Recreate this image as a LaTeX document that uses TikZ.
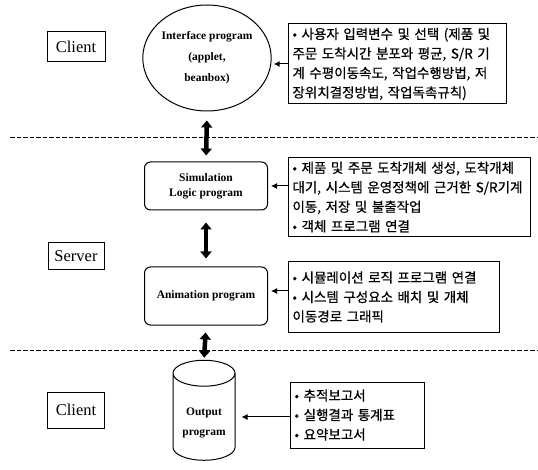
\documentclass[tikz,border=0pt]{standalone}
\usepackage{fontspec}
\setmainfont{Liberation Serif}
\newfontfamily\krfont[FakeBold=0.6]{Noto Sans CJK KR}
\usetikzlibrary{shapes.geometric,arrows.meta,positioning}

\begin{document}
\begin{tikzpicture}[x=1pt,y=-1pt,
  tier/.style={rectangle,draw,line width=1pt,font=\fontsize{16.5}{18}\selectfont,inner sep=0pt},
  prog/.style={draw,line width=1pt,font=\bfseries\fontsize{11.5}{15}\selectfont,align=center,inner sep=0pt},
  note/.style={rectangle,draw,line width=1pt,font=\krfont\fontsize{13.5}{19.5}\selectfont,align=left,anchor=west,inner xsep=4pt,inner ysep=1pt},
  link/.style={-{Latex[length=6pt,width=6pt]},line width=1pt},
  dbl/.style={{Triangle[length=7pt,width=11pt]}-{Triangle[length=7pt,width=11pt]},line width=4.5pt},
  tierline/.style={dash pattern=on 4.5pt off 2pt,line width=1pt}]
  \useasboundingbox (0,0) rectangle (538,470);

  % tiers
  \node[tier,minimum width=58,minimum height=30] (client1) at (76,47) {Client};
  \node[tier,minimum width=56,minimum height=27] (server) at (76,256) {Server};
  \node[tier,minimum width=57,minimum height=36] (client2) at (76,410) {Client};

  % programs
  \node[prog,ellipse,minimum width=127,minimum height=106,font=\bfseries\fontsize{11.5}{21}\selectfont] (intf) at (207,58)
    {Interface program\\(applet,\\beanbox)};
  \node[prog,rounded corners=6pt,minimum width=123,minimum height=48] (sim) at (206,186)
    {Simulation\\Logic program};
  \node[prog,rounded corners=6pt,minimum width=123,minimum height=58] (anim) at (206,296)
    {Animation program};
  \node[prog,cylinder,shape border rotate=90,aspect=0.6,minimum width=62,minimum height=100,font=\bfseries\fontsize{11.5}{20}\selectfont] (output) at (204,417)
    {~\\Output\\program};

  % notes
  \node[note,text width=210pt,minimum height=80] (note1) at (288,64)
    {• 사용자 입력변수 및 선택 (제품 및\\주문 도착시간 분포와 평균, S/R 기\\계 수평이동속도, 작업수행방법, 저\\장위치결정방법, 작업독촉규칙)};
  \node[note,text width=234pt,minimum height=79] (note2) at (288,197)
    {• 제품 및 주문 도착개체 생성, 도착개체\\대기, 시스템 운영정책에 근거한~S/R기계\\이동, 저장 및 불출작업\\• 객체 프로그램 연결};
  \node[note,text width=203pt,minimum height=70] (note3) at (288,297)
    {• 시뮬레이션 로직 프로그램 연결\\• 시스템 구성요소 배치 및 개체\\이동경로 그래픽};
  \node[note,text width=126pt,minimum height=66] (note4) at (290,415)
    {• 추적보고서\\• 실행결과 통계표\\• 요약보고서};

  % tier borders
  \draw[tierline] (10,138) -- (538,138);
  \draw[tierline] (10,350) -- (538,350);

  % links
  \draw[link,shorten >=2pt] (note1.west) -- (note1.west -| intf.east);
  \draw[link,shorten >=3pt] (sim.east -| note2.west) -- (sim.east);
  \draw[link,shorten >=3pt] ([yshift=5pt]anim.east -| note3.west) -- ([yshift=5pt]anim.east);
  \draw[link,shorten >=6pt] (output.east -| note4.west) -- (output.east);

  \draw[dbl,shorten <=9pt,shorten >=6pt] (intf.south) -- (sim.north);
  \draw[dbl,shorten <=12pt,shorten >=8pt] (sim.south) -- (anim.north);
  \draw[dbl,shorten <=7pt,shorten >=2pt] (anim.south) -- (output.north);
\end{tikzpicture}
\end{document}
